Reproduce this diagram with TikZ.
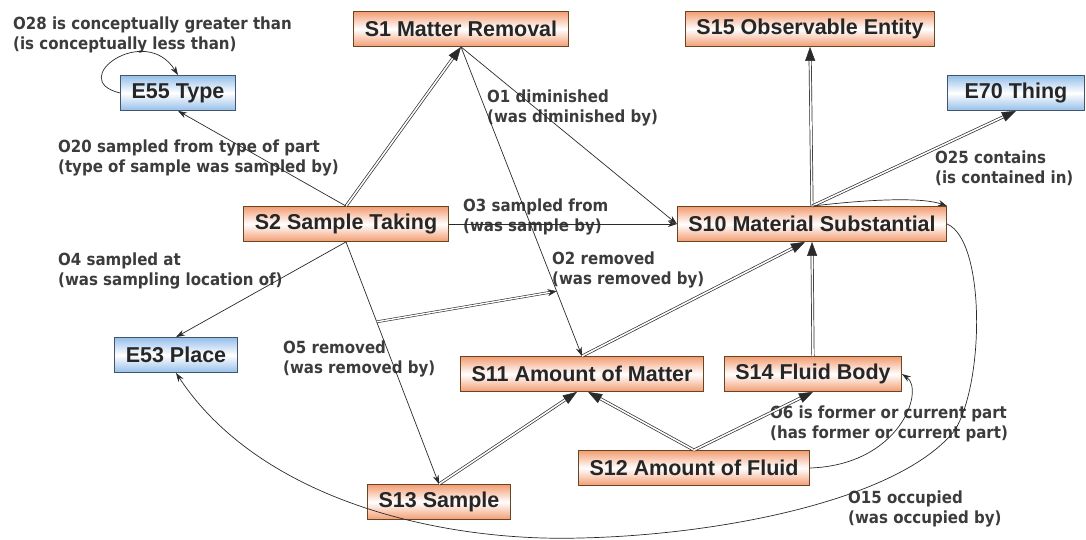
\documentclass[tikz,border=0pt]{standalone}
\usepackage{fontspec}
\setmainfont{Liberation Sans}
\newfontfamily\lblfont{DejaVu Sans Condensed Bold}
\usepackage{tikz}
\usetikzlibrary{arrows,arrows.meta,shapes,positioning,decorations.markings}
\definecolor{salmon}{HTML}{F39C72}
\definecolor{skyb}{HTML}{95BFEA}
\definecolor{linec}{HTML}{2A2A2A}
\definecolor{lblc}{HTML}{3C3C3C}

\begin{document}
\begin{tikzpicture}[x=1pt,y=-1pt,
  box/.style={draw, line width=0.8pt, inner xsep=11pt, minimum height=35pt,
    font=\fontsize{21.5}{23}\selectfont\bfseries, text=black!85},
  sbox/.style={box, draw=brown!55!black, top color=salmon, bottom color=salmon, middle color=white},
  ebox/.style={box, draw=skyb!45!black, top color=skyb, bottom color=skyb, middle color=white},
  lbl/.style={anchor=north west, inner sep=0pt, align=left, text=lblc,
    font=\lblfont\fontsize{16.7}{20}\selectfont},
  rel/.style={draw=linec, line width=0.7pt, -{Stealth[length=9pt,width=6pt]}},
  isa/.style={draw=linec, line width=0.7pt, double=white, double distance=1.6pt, shorten >=10pt,
    postaction={decorate, decoration={markings,
      mark=at position 1 with {\arrow[linec,line width=0.5pt]{Triangle[length=14pt,width=10pt]}}}}},
  subrel/.style={draw=linec, line width=0.6pt, double=white, double distance=1.4pt, shorten >=6pt,
    postaction={decorate, decoration={markings,
      mark=at position 1 with {\arrow[linec,line width=0.5pt]{Stealth[length=9pt,width=7pt]}}}}}]
\useasboundingbox (0,0) rectangle (1086,539);
% classes
\node (S1) at (461,29) [sbox] {S1 Matter Removal};
\node (S15) at (810,29) [sbox] {S15 Observable Entity};
\node (E55) at (178,93) [ebox] {E55 Type};
\node (E70) at (1016,93) [ebox, minimum width=137pt] {E70 Thing};
\node (S2) at (346,224) [sbox] {S2 Sample Taking};
\node (S10) at (812,224) [sbox] {S10 Material Substantial};
\node (E53) at (176,355) [ebox] {E53 Place};
\node (S11) at (582,374) [sbox] {S11 Amount of Matter};
\node (S14) at (813,374) [sbox] {S14 Fluid Body};
\node (S12) at (694,468) [sbox] {S12 Amount of Fluid};
\node (S13) at (439,502) [sbox] {S13 Sample};
% property labels
\node (o28) at (13,17) [lbl] {O28 is conceptually greater than\\(is conceptually less than)};
\node (o20) at (58,140) [lbl] {O20 sampled from type of part\\(type of sample was sampled by)};
\node (o1) at (487,90) [lbl] {O1 diminished\\(was diminished by)};
\node (o3) at (463,199) [lbl] {O3 sampled from\\(was sample by)};
\node (o2) at (552,252) [lbl] {O2 removed\\(was removed by)};
\node (o4) at (58,253) [lbl] {O4 sampled at\\(was sampling location of)};
\node (o5) at (283,341) [lbl] {O5 removed\\(was removed by)};
\node (o25) at (935,151) [lbl] {O25 contains\\(is contained in)};
\node (o6) at (770,406) [lbl] {O6 is former or current part\\(has former or current part)};
\node (o15) at (848,491) [lbl] {O15 occupied\\(was occupied by)};
% isA links
\draw[isa] (S2.north) -- (S1.south);
\draw[isa] (S10.north) -- (S15.south);
\draw[isa] (S10.north) -- (E70.south);
\draw[isa] (S11.north) -- ([xshift=-7pt]S10.south);
\draw[isa] (S14.north) -- (S10.south);
\draw[isa] (S13.north) -- ([xshift=-5pt]S11.south);
\draw[isa] (S12.north) -- ([xshift=6pt]S11.south);
\draw[isa] (S12.north) -- (S14.south);
% properties
\draw[rel] (E55.west) .. controls (65,80) and (145,22) .. (E55.north);
\draw[rel] (S2.north) -- (E55.south);
\draw[rel] (S1.south) -- (S10.west);
\draw[rel] (S1.south) -- coordinate[pos=0.79] (o2pt) (S11.north);
\draw[rel] (S2.east) -- (S10.west);
\draw[rel] (S2.south) -- (E53.north);
\draw[rel] (S2.south) -- coordinate[pos=0.33] (o5pt) (S13.north);
\draw[subrel] (o5pt) -- (o2pt);
\draw[rel] (S10.north) .. controls (880,198) and (925,198) .. (S10.north east);
\draw[rel] (S12.east) .. controls (900,465) and (925,390) .. (S14.east);
\draw[rel] (S10.east) .. controls (985,240) and (985,380) .. (955,430)
  .. controls (900,500) and (720,535) .. (580,538)
  .. controls (440,542) and (260,500) .. (E53.south);
\end{tikzpicture}
\end{document}
